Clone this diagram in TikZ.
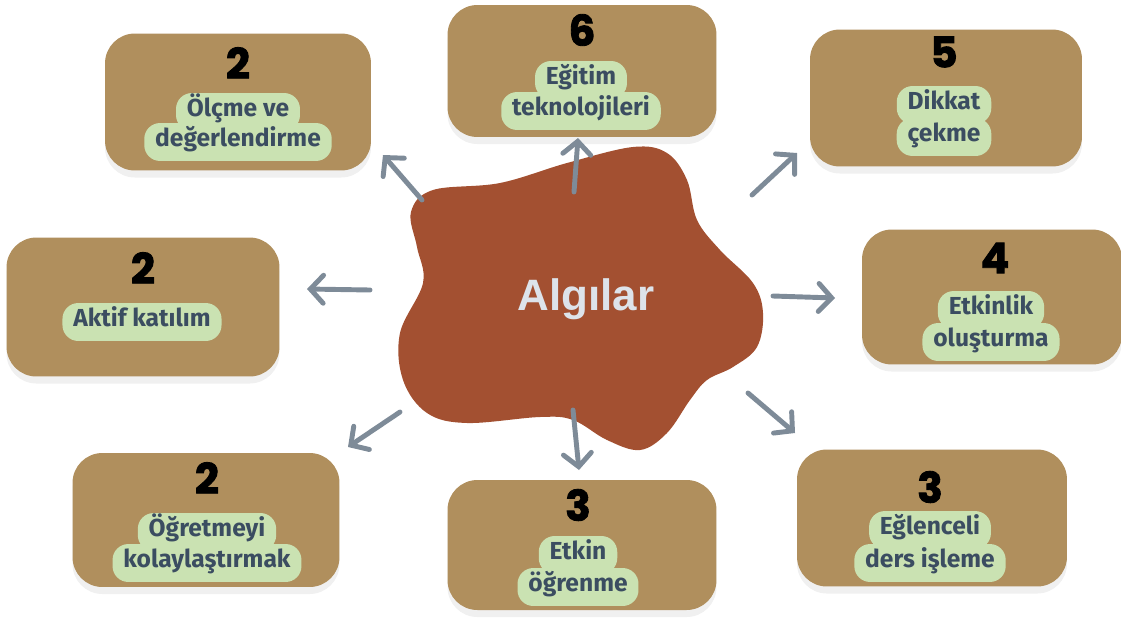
\documentclass[tikz,border=0pt]{standalone}
\usepackage{fontspec}
\setmainfont{Fira Sans}
\newfontfamily\numfont{Poppins}[FakeBold=2]
\newfontfamily\hubfont{Liberation Sans}
\usetikzlibrary{arrows.meta,shadows}
\definecolor{cardbrown}{RGB}{176,143,93}
\definecolor{tagleaf}{RGB}{202,226,178}
\definecolor{inkslate}{RGB}{59,77,97}
\definecolor{blobrust}{RGB}{163,80,49}
\definecolor{arrowgrey}{RGB}{126,139,152}
\definecolor{hubfrost}{RGB}{221,227,234}
\pgfdeclarelayer{cards}
\pgfdeclarelayer{bubbles}
\pgfsetlayers{cards,bubbles,main}

\begin{document}
\begin{tikzpicture}[
  x=0.02cm, y=-0.02cm,
  card/.style={fill=cardbrown, rounded corners=17pt, inner sep=0pt,
               minimum width=5.38cm, minimum height=2.7cm,
               drop shadow={opacity=0.12, shadow xshift=0pt, shadow yshift=-4pt}},
  num/.style={font=\numfont\bfseries\fontsize{24}{24}\selectfont, text=black, inner sep=0pt},
  tag/.style={font=\bfseries\fontsize{14}{18}\selectfont, text=inkslate, inner sep=0pt,
              text height=0.72em, text depth=0.2em},
  arr/.style={-{Straight Barb[length=2.6mm, width=5.6mm, line cap=round]},
              arrowgrey, line width=2.8pt, line cap=round},
]
\useasboundingbox (0,0) rectangle (1121,619);
\clip (0,0) rectangle (1121,619);

\begin{pgfonlayer}{cards}
\node[card, minimum width=5.32cm, minimum height=2.74cm] (c1) at (238,102) {};
\node[card, minimum width=5.38cm, minimum height=2.64cm] (c2) at (582,71) {};
\node[card, minimum width=5.44cm, minimum height=2.74cm] (c3) at (946,98) {};
\node[card, minimum width=5.46cm, minimum height=2.78cm] (c4) at (143,307) {};
\node[card, minimum width=5.20cm, minimum height=2.70cm] (c5) at (992,297) {};
\node[card, minimum width=5.34cm, minimum height=2.68cm] (c6) at (206,520) {};
\node[card, minimum width=5.38cm, minimum height=2.60cm] (c7) at (582,545) {};
\node[card, minimum width=5.40cm, minimum height=2.74cm] (c8) at (932,518) {};
\end{pgfonlayer}

\fill[blobrust] plot[smooth cycle, tension=0.6] coordinates {
  (433,190) (500,183) (567,163) (633,147) (667,153) (687,180) (697,220)
  (720,250) (753,283) (763,313) (757,347) (733,367) (707,380) (690,400)
  (667,433) (640,450) (607,440) (573,420) (540,417) (467,423) (427,413)
  (403,380) (400,333) (423,283) (417,247) (411,212)};
\node[font=\hubfont\bfseries\fontsize{25}{25}\selectfont, text=hubfrost, anchor=base]
  (hub) at (586,310) {Algılar};

\node[num] (n1) at (238,63) {2};
\node[num] (n2) at (582,30) {6};
\node[num] (n3) at (944,52) {5};
\node[num] (n4) at (143,268) {2};
\node[num] (n5) at (995,258) {4};
\node[num] (n6) at (207,478) {2};
\node[num] (n7) at (578,505) {3};
\node[num] (n8) at (930,487) {3};

\node[tag] (t1a) at (238,112) {Ölçme ve};
\node[tag] (t1b) at (238,142) {değerlendirme};
\node[tag] (t2a) at (581,80) {Eğitim};
\node[tag] (t2b) at (581,111) {teknolojileri};
\node[tag] (t3a) at (944,105) {Dikkat};
\node[tag] (t3b) at (944,137) {çekme};
\node[tag] (t4a) at (142,322) {Aktif katılım};
\node[tag] (t5a) at (991,310) {Etkinlik};
\node[tag] (t5b) at (991,342) {oluşturma};
\node[tag] (t6a) at (207,532) {Öğretmeyi};
\node[tag] (t6b) at (207,563) {kolaylaştırmak};
\node[tag] (t7a) at (578,555) {Etkin};
\node[tag] (t7b) at (578,587) {öğrenme};
\node[tag] (t8a) at (930,530) {Eğlenceli};
\node[tag] (t8b) at (930,563) {ders işleme};

\begin{pgfonlayer}{bubbles}
\foreach \t in {t1a,t1b,t2a,t2b,t3a,t3b,t4a,t5a,t5b,t6a,t6b,t7a,t7b,t8a,t8b}
  \fill[tagleaf, rounded corners=9pt]
    ([shift={(-6pt,6pt)}]\t.north west) rectangle ([shift={(6pt,-6pt)}]\t.south east);
\end{pgfonlayer}

\coordinate (s1) at (422,200); \coordinate (e1) at (383,155);
\coordinate (s2) at (574,192); \coordinate (e2) at (578,138);
\coordinate (s3) at (752,195); \coordinate (e3) at (797,153);
\coordinate (s4) at (370,290); \coordinate (e4) at (307,289);
\coordinate (s5) at (773,296); \coordinate (e5) at (835,298);
\coordinate (s6) at (400,412); \coordinate (e6) at (348,447);
\coordinate (s7) at (573,410); \coordinate (e7) at (579,470);
\coordinate (s8) at (748,393); \coordinate (e8) at (795,433);

\draw[arr] (s1) -- (e1);
\draw[arr] (s2) -- (e2);
\draw[arr] (s3) -- (e3);
\draw[arr] (s4) -- (e4);
\draw[arr] (s5) -- (e5);
\draw[arr] (s6) -- (e6);
\draw[arr] (s7) -- (e7);
\draw[arr] (s8) -- (e8);
\end{tikzpicture}
\end{document}
